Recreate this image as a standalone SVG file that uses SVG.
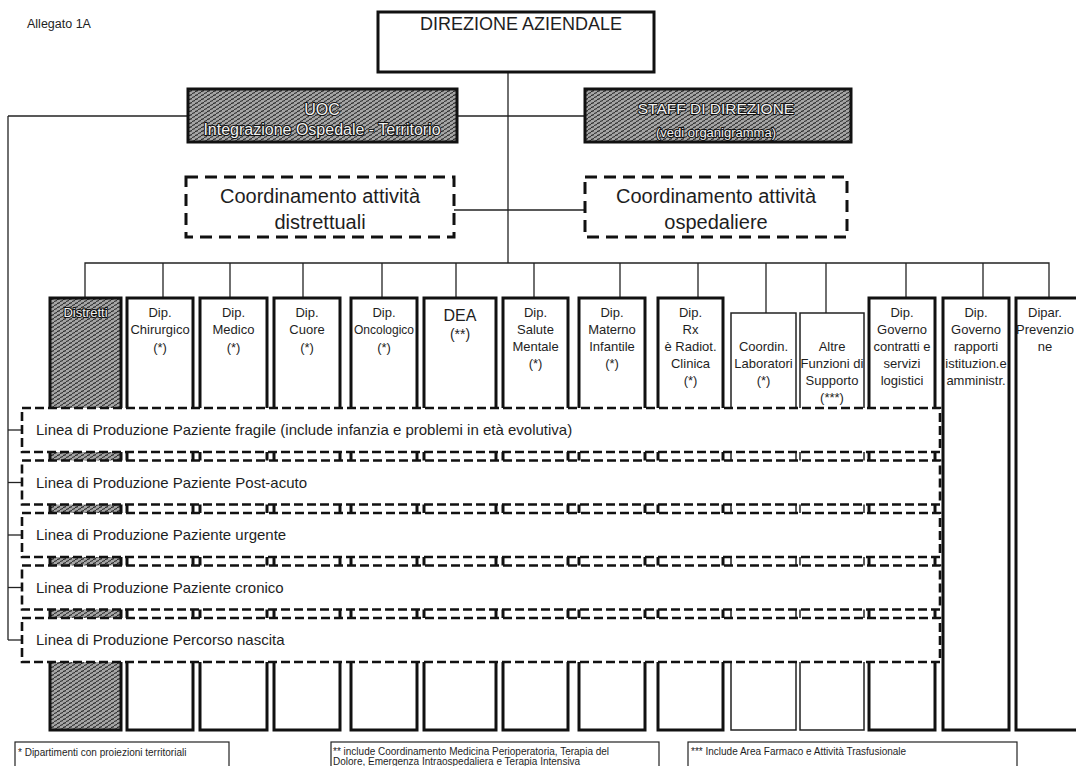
<svg xmlns="http://www.w3.org/2000/svg" width="1076" height="766" viewBox="0 0 1076 766">
<style>
.t{font-family:"Liberation Sans",Arial,sans-serif;fill:#1e1e1e}
.c{text-anchor:middle}
.s13{font-size:13px}
.box{fill:#fff;stroke:#111;stroke-width:3}
.thin{fill:#fff;stroke:#222;stroke-width:1.5}
.hatch{fill:url(#hatch);stroke:#111;stroke-width:3}
.dash{fill:#fff;stroke:#111;stroke-width:3;stroke-dasharray:12 7}
.band{fill:#fff;stroke:#111;stroke-width:2.6;stroke-dasharray:9 4}
.line{stroke:#222;stroke-width:1.3;fill:none}
.ht{fill:#f2f2f2;stroke:#111;stroke-width:2;paint-order:stroke;stroke-linejoin:round}
.note{fill:#fff;stroke:#222;stroke-width:1.2}
</style>
<defs>
<pattern id="hatch" width="6" height="4" patternUnits="userSpaceOnUse">
<rect width="6" height="4" fill="#a6a6a6"/>
<path d="M0 1.6 L3 0.6 M3 3.6 L6 2.6" stroke="#262626" stroke-width="1.1"/>
</pattern>
</defs>
<rect width="1076" height="766" fill="#fff"/>
<text class="t" x="27" y="28" font-size="12.5">Allegato 1A</text>

<g id="connectors">
<line class="line" x1="508" y1="72" x2="508" y2="263"/>
<line class="line" x1="8" y1="116" x2="585" y2="116"/>
<line class="line" x1="454" y1="210" x2="585" y2="210"/>
<line class="line" x1="8" y1="116" x2="8" y2="640"/>
<line class="line" x1="8" y1="430" x2="22" y2="430"/>
<line class="line" x1="8" y1="482.5" x2="22" y2="482.5"/>
<line class="line" x1="8" y1="535" x2="22" y2="535"/>
<line class="line" x1="8" y1="587.5" x2="22" y2="587.5"/>
<line class="line" x1="8" y1="640" x2="22" y2="640"/>
<polyline class="line" points="85,298 85,263 1049,263 1049,298"/>
<line class="line" x1="163" y1="263" x2="163" y2="298"/>
<line class="line" x1="230" y1="263" x2="230" y2="298"/>
<line class="line" x1="303" y1="263" x2="303" y2="298"/>
<line class="line" x1="382" y1="263" x2="382" y2="298"/>
<line class="line" x1="456" y1="263" x2="456" y2="298"/>
<line class="line" x1="534" y1="263" x2="534" y2="298"/>
<line class="line" x1="620" y1="263" x2="620" y2="298"/>
<line class="line" x1="698" y1="263" x2="698" y2="298"/>
<line class="line" x1="766" y1="263" x2="766" y2="313"/>
<line class="line" x1="826" y1="263" x2="826" y2="313"/>
<line class="line" x1="906" y1="263" x2="906" y2="298"/>
<line class="line" x1="983" y1="263" x2="983" y2="298"/>
</g>

<g id="direzione">
<rect class="box" x="378" y="12" width="276" height="60" stroke-width="2.5"/>
<text class="t c" x="521" y="30" font-size="18">DIREZIONE AZIENDALE</text>
</g>
<g id="uoc">
<rect class="hatch" x="188" y="89" width="269" height="53"/>
<text class="t c ht" x="322" y="115" font-size="16">UOC</text>
<text class="t c ht" x="322" y="135" font-size="16">Integrazione Ospedale - Territorio</text>
</g>
<g id="staff">
<rect class="hatch" x="585" y="89" width="266" height="53"/>
<text class="t c ht" x="716" y="114" font-size="15.5">STAFF DI DIREZIONE</text>
<text class="t c ht" x="716" y="137" font-size="13">(vedi organigramma)</text>
</g>
<g id="coord-distr">
<rect class="dash" x="186" y="177" width="268" height="60"/>
<text class="t c" x="320" y="203" font-size="20">Coordinamento attività</text>
<text class="t c" x="320" y="229" font-size="20">distrettuali</text>
</g>
<g id="coord-osp">
<rect class="dash" x="585" y="177" width="262" height="60"/>
<text class="t c" x="716" y="203" font-size="20">Coordinamento attività</text>
<text class="t c" x="716" y="229" font-size="20">ospedaliere</text>
</g>

<g id="distretti">
<rect class="hatch" x="50" y="298" width="71" height="432"/>
<text class="t c s13 ht" x="85.5" y="317">Distretti</text>
</g>
<g id="chirurgico">
<rect class="box" x="127" y="298" width="66" height="432"/>
<text class="t c s13" x="160" y="317">Dip.</text>
<text class="t c s13" x="160" y="334">Chirurgico</text>
<text class="t c s13" x="160" y="352">(*)</text>
</g>
<g id="medico">
<rect class="box" x="200" y="298" width="67" height="432"/>
<text class="t c s13" x="233.5" y="317">Dip.</text>
<text class="t c s13" x="233.5" y="334">Medico</text>
<text class="t c s13" x="233.5" y="352">(*)</text>
</g>
<g id="cuore">
<rect class="box" x="274" y="298" width="66" height="432"/>
<text class="t c s13" x="307" y="317">Dip.</text>
<text class="t c s13" x="307" y="334">Cuore</text>
<text class="t c s13" x="307" y="352">(*)</text>
</g>
<g id="oncologico">
<rect class="box" x="351" y="298" width="66" height="432"/>
<text class="t c s13" x="384" y="317">Dip.</text>
<text class="t c" x="384" y="334" font-size="12">Oncologico</text>
<text class="t c s13" x="384" y="352">(*)</text>
</g>
<g id="dea">
<rect class="box" x="424" y="298" width="72" height="432"/>
<text class="t c" x="460" y="321" font-size="16">DEA</text>
<text class="t c" x="460" y="339" font-size="14">(**)</text>
</g>
<g id="salute-mentale">
<rect class="box" x="503" y="298" width="65" height="432"/>
<text class="t c s13" x="535.5" y="317">Dip.</text>
<text class="t c s13" x="535.5" y="334">Salute</text>
<text class="t c s13" x="535.5" y="351">Mentale</text>
<text class="t c s13" x="535.5" y="368">(*)</text>
</g>
<g id="materno-infantile">
<rect class="box" x="579" y="298" width="66" height="432"/>
<text class="t c s13" x="612" y="317">Dip.</text>
<text class="t c s13" x="612" y="334">Materno</text>
<text class="t c s13" x="612" y="351">Infantile</text>
<text class="t c s13" x="612" y="368">(*)</text>
</g>
<g id="rx">
<rect class="box" x="658" y="298" width="65" height="432"/>
<text class="t c s13" x="690.5" y="317">Dip.</text>
<text class="t c s13" x="690.5" y="334">Rx</text>
<text class="t c s13" x="690.5" y="351">è Radiot.</text>
<text class="t c s13" x="690.5" y="368">Clinica</text>
<text class="t c s13" x="690.5" y="385">(*)</text>
</g>
<g id="laboratori">
<rect class="thin" x="731" y="313" width="65" height="417"/>
<text class="t c s13" x="763.5" y="351">Coordin.</text>
<text class="t c s13" x="763.5" y="368">Laboratori</text>
<text class="t c s13" x="763.5" y="385">(*)</text>
</g>
<g id="altre-funzioni">
<rect class="thin" x="800" y="313" width="64" height="417"/>
<text class="t c s13" x="832" y="351">Altre</text>
<text class="t c s13" x="832" y="368">Funzioni di</text>
<text class="t c s13" x="832" y="385">Supporto</text>
<text class="t c s13" x="832" y="402">(***)</text>
</g>
<g id="governo-contratti">
<rect class="box" x="869" y="298" width="66" height="432"/>
<text class="t c s13" x="902" y="317">Dip.</text>
<text class="t c s13" x="902" y="334">Governo</text>
<text class="t c s13" x="902" y="351">contratti e</text>
<text class="t c s13" x="902" y="368">servizi</text>
<text class="t c s13" x="902" y="385">logistici</text>
</g>
<g id="governo-rapporti">
<rect class="box" x="943" y="298" width="66" height="432"/>
<text class="t c s13" x="976" y="317">Dip.</text>
<text class="t c s13" x="976" y="334">Governo</text>
<text class="t c s13" x="976" y="351">rapporti</text>
<text class="t c s13" x="976" y="368">istituzion.e</text>
<text class="t c s13" x="976" y="385">amministr.</text>
</g>
<g id="prevenzione">
<rect class="box" x="1016" y="298" width="70" height="432"/>
<text class="t c s13" x="1045" y="317">Dipar.</text>
<text class="t c s13" x="1045" y="334">Prevenzio</text>
<text class="t c s13" x="1045" y="351">ne</text>
</g>

<g id="linea-fragile">
<rect class="band" x="22" y="408" width="918" height="44"/>
<text class="t" x="36" y="435" font-size="15">Linea di Produzione Paziente fragile (include infanzia e problemi in età evolutiva)</text>
</g>
<g id="linea-post-acuto">
<rect class="band" x="22" y="460.5" width="918" height="44"/>
<text class="t" x="36" y="487.5" font-size="15">Linea di Produzione Paziente Post-acuto</text>
</g>
<g id="linea-urgente">
<rect class="band" x="22" y="513" width="918" height="44"/>
<text class="t" x="36" y="540" font-size="15">Linea di Produzione Paziente urgente</text>
</g>
<g id="linea-cronico">
<rect class="band" x="22" y="565.5" width="918" height="44"/>
<text class="t" x="36" y="592.5" font-size="15">Linea di Produzione Paziente cronico</text>
</g>
<g id="linea-nascita">
<rect class="band" x="22" y="618" width="918" height="44"/>
<text class="t" x="36" y="645" font-size="15">Linea di Produzione Percorso nascita</text>
</g>

<g id="nota-1">
<rect class="note" x="15" y="742" width="214" height="30"/>
<text class="t" x="18" y="756" font-size="10">* Dipartimenti con proiezioni  territoriali</text>
</g>
<g id="nota-2">
<rect class="note" x="331" y="742" width="328" height="30"/>
<text class="t" x="333" y="755" font-size="10">** include Coordinamento Medicina Perioperatoria, Terapia del</text>
<text class="t" x="333" y="765" font-size="10">Dolore, Emergenza Intraospedaliera e Terapia Intensiva</text>
</g>
<g id="nota-3">
<rect class="note" x="688" y="742" width="329" height="30"/>
<text class="t" x="691" y="755" font-size="10">*** Include  Area Farmaco e Attività  Trasfusionale</text>
</g>
</svg>
